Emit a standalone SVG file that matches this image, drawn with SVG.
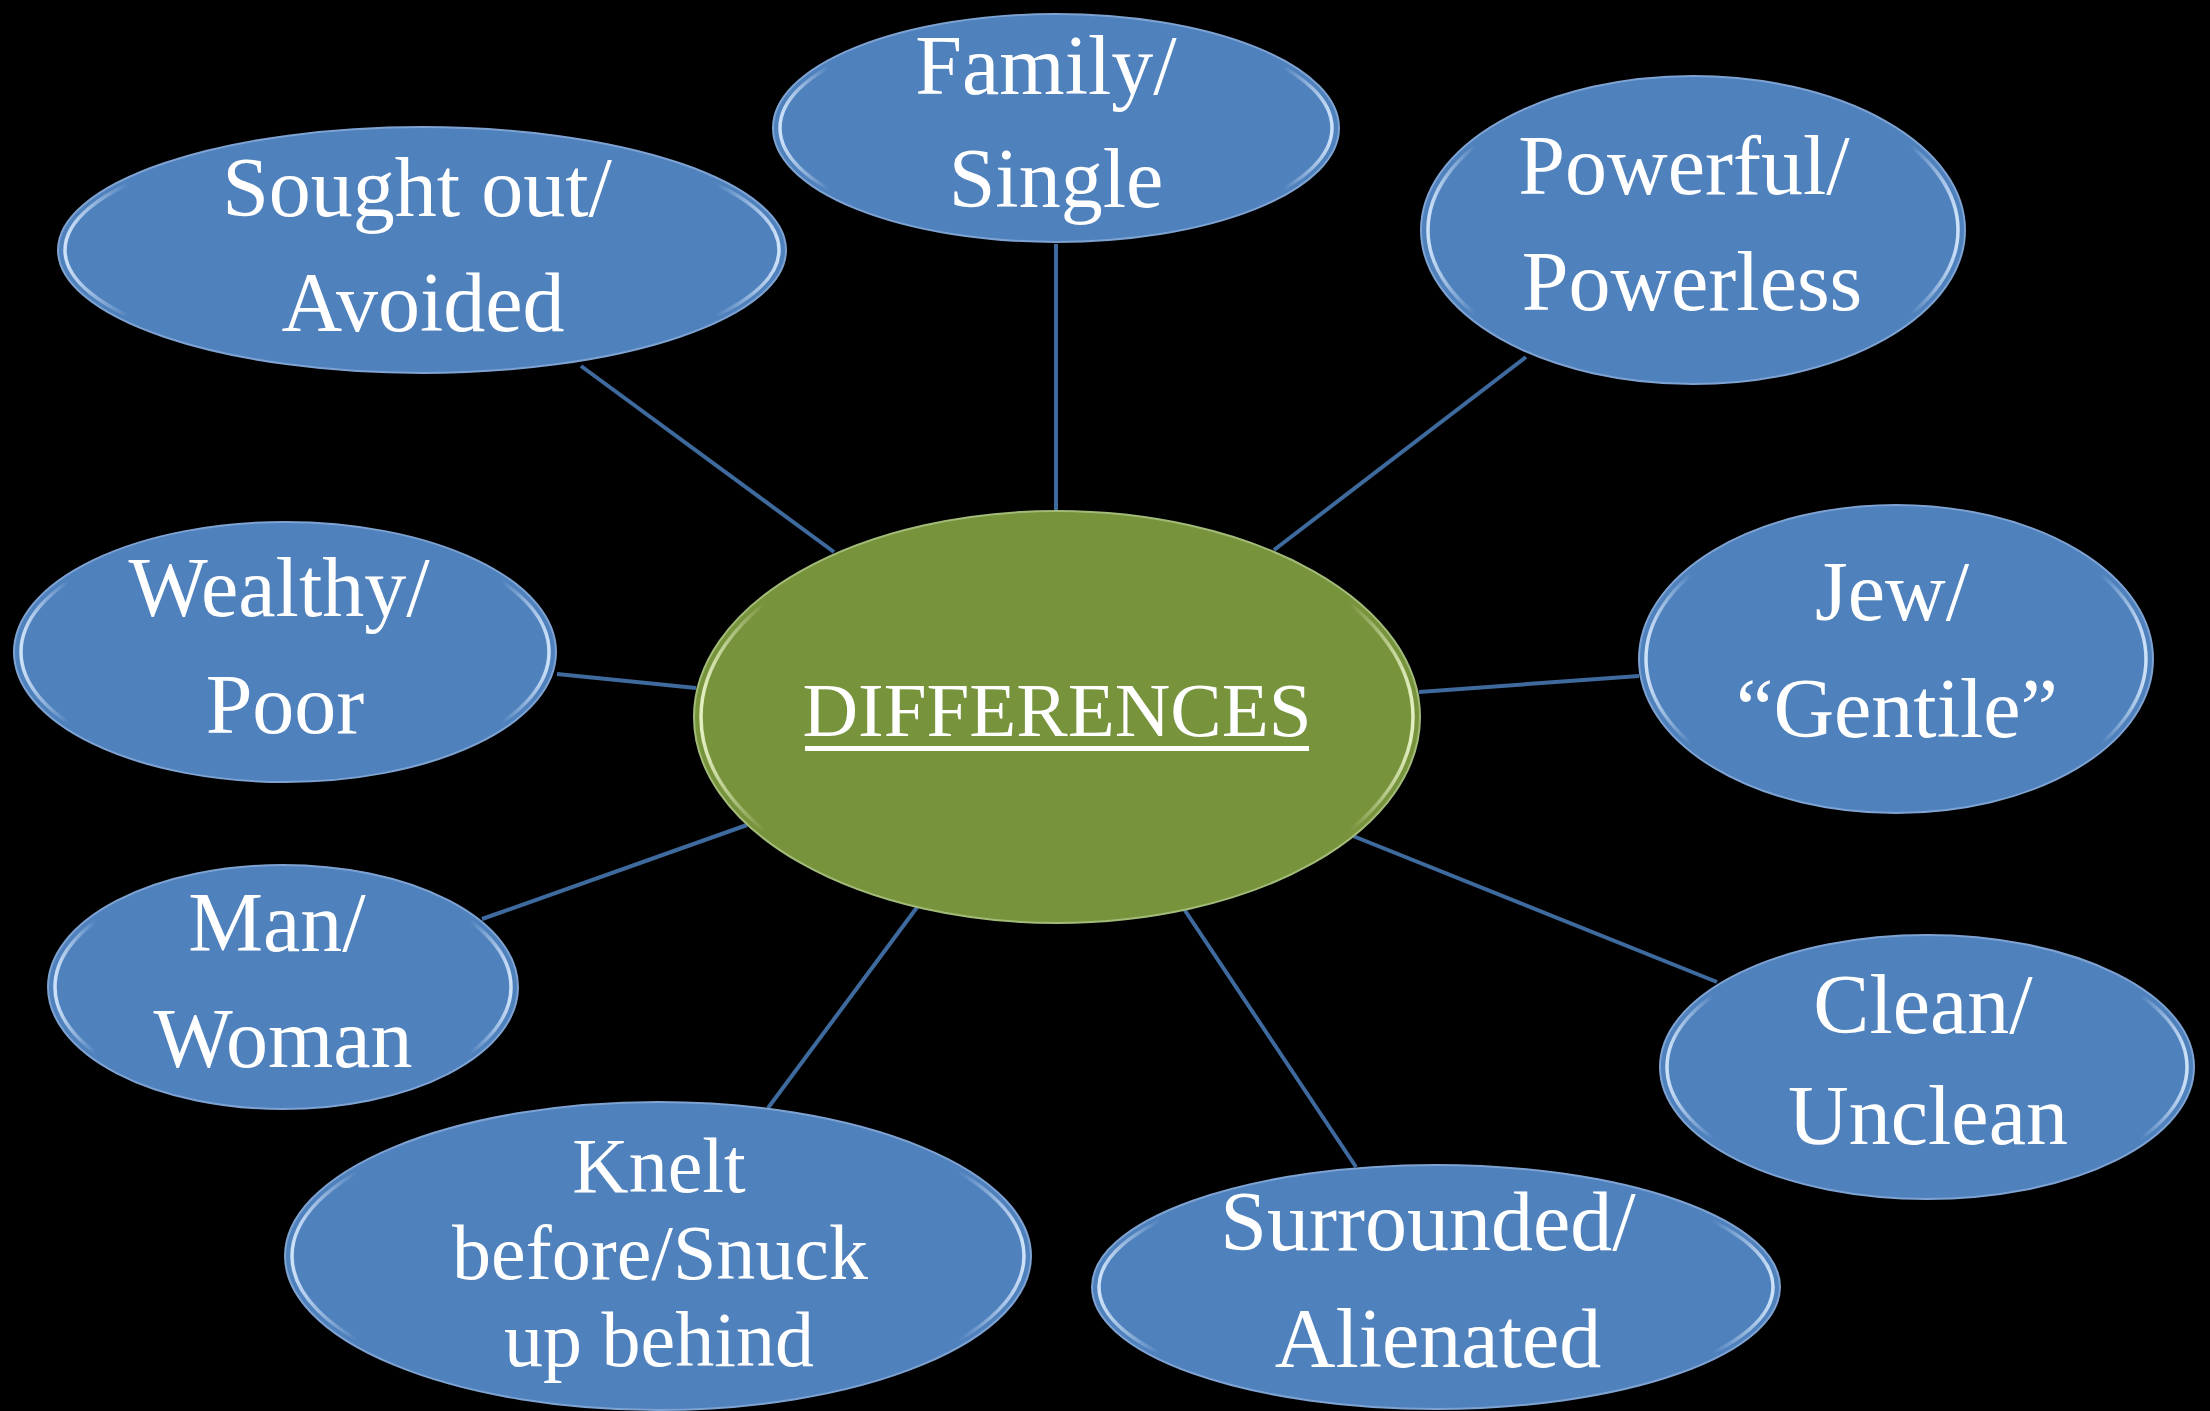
<svg xmlns="http://www.w3.org/2000/svg" width="2210" height="1411" viewBox="0 0 2210 1411">
<style>
.bg{fill:#000}
.conn{stroke:#3f6a9e;stroke-width:4;fill:none}
.blue{fill:#4f81bd;stroke:#7ea3d3;stroke-width:2}
.green{fill:#77933c;stroke:#a3bb78;stroke-width:2}
.hb{fill:none;stroke:url(#hlB);stroke-width:3.5}
.hg{fill:none;stroke:url(#hlG);stroke-width:3.5}
.t{font-family:"Liberation Serif","DejaVu Serif",serif;font-size:84px;fill:#fff;text-anchor:middle}
.tk{font-family:"Liberation Serif","DejaVu Serif",serif;font-size:78px;fill:#fff;text-anchor:middle}
.tc{font-family:"Liberation Serif","DejaVu Serif",serif;font-size:77px;fill:#fff;text-anchor:middle}
</style>
<defs>
<linearGradient id="hlB" x1="0" y1="0" x2="1" y2="0">
<stop offset="0" stop-color="#dcecff" stop-opacity="0.9"/>
<stop offset="0.09" stop-color="#dcecff" stop-opacity="0"/>
<stop offset="0.91" stop-color="#dcecff" stop-opacity="0"/>
<stop offset="1" stop-color="#dcecff" stop-opacity="0.9"/>
</linearGradient>
<linearGradient id="hlG" x1="0" y1="0" x2="1" y2="0">
<stop offset="0" stop-color="#f0fad0" stop-opacity="0.9"/>
<stop offset="0.09" stop-color="#f0fad0" stop-opacity="0"/>
<stop offset="0.91" stop-color="#f0fad0" stop-opacity="0"/>
<stop offset="1" stop-color="#f0fad0" stop-opacity="0.9"/>
</linearGradient>
</defs>
<rect class="bg" x="0" y="0" width="2210" height="1411"/>
<g id="connectors">
<line class="conn" x1="581" y1="366" x2="834" y2="552"/>
<line class="conn" x1="1056" y1="244" x2="1056" y2="510"/>
<line class="conn" x1="1526" y1="357" x2="1274" y2="550"/>
<line class="conn" x1="557" y1="674" x2="696" y2="688"/>
<line class="conn" x1="1639" y1="676" x2="1419" y2="692"/>
<line class="conn" x1="482" y1="919" x2="747" y2="825"/>
<line class="conn" x1="1717" y1="982" x2="1353" y2="836"/>
<line class="conn" x1="1356" y1="1167" x2="1184" y2="909"/>
<line class="conn" x1="768" y1="1108" x2="918" y2="906"/>
</g>
<g id="center">
<ellipse class="green" cx="1057" cy="717" rx="363" ry="206"/>
<ellipse class="hg" cx="1057" cy="717" rx="356" ry="199"/>
<text class="tc" x="1057" y="736">DIFFERENCES</text>
<rect x="805" y="746" width="504" height="5" fill="#fff"/>
</g>
<g id="family">
<ellipse class="blue" cx="1056" cy="128" rx="283" ry="114"/>
<ellipse class="hb" cx="1056" cy="128" rx="276" ry="107"/>
<text class="t" x="1046" y="94">Family/</text>
<text class="t" x="1056" y="207">Single</text>
</g>
<g id="sought">
<ellipse class="blue" cx="422" cy="250" rx="364" ry="123"/>
<ellipse class="hb" cx="422" cy="250" rx="357" ry="116"/>
<text class="t" x="417" y="216">Sought out/</text>
<text class="t" x="423" y="331">Avoided</text>
</g>
<g id="powerful">
<ellipse class="blue" cx="1693" cy="230" rx="272" ry="154"/>
<ellipse class="hb" cx="1693" cy="230" rx="265" ry="147"/>
<text class="t" x="1684" y="194">Powerful/</text>
<text class="t" x="1692" y="310">Powerless</text>
</g>
<g id="wealthy">
<ellipse class="blue" cx="285" cy="652" rx="271" ry="130"/>
<ellipse class="hb" cx="285" cy="652" rx="264" ry="123"/>
<text class="t" x="279" y="616">Wealthy/</text>
<text class="t" x="285" y="733">Poor</text>
</g>
<g id="jew">
<ellipse class="blue" cx="1896" cy="659" rx="257" ry="154"/>
<ellipse class="hb" cx="1896" cy="659" rx="250" ry="147"/>
<text class="t" x="1892" y="620">Jew/</text>
<text class="t" x="1897" y="737">“Gentile”</text>
</g>
<g id="man">
<ellipse class="blue" cx="283" cy="987" rx="235" ry="122"/>
<ellipse class="hb" cx="283" cy="987" rx="228" ry="115"/>
<text class="t" x="277" y="951">Man/</text>
<text class="t" x="283" y="1067">Woman</text>
</g>
<g id="clean">
<ellipse class="blue" cx="1927" cy="1067" rx="267" ry="132"/>
<ellipse class="hb" cx="1927" cy="1067" rx="260" ry="125"/>
<text class="t" x="1923" y="1033">Clean/</text>
<text class="t" x="1928" y="1144">Unclean</text>
</g>
<g id="surrounded">
<ellipse class="blue" cx="1436" cy="1287" rx="344" ry="122"/>
<ellipse class="hb" cx="1436" cy="1287" rx="337" ry="115"/>
<text class="t" x="1428" y="1250">Surrounded/</text>
<text class="t" x="1438" y="1367">Alienated</text>
</g>
<g id="knelt">
<ellipse class="blue" cx="658" cy="1256" rx="373" ry="154"/>
<ellipse class="hb" cx="658" cy="1256" rx="366" ry="147"/>
<text class="tk" x="659" y="1192">Knelt</text>
<text class="tk" x="660" y="1279">before/Snuck</text>
<text class="tk" x="659" y="1366">up behind</text>
</g>
</svg>
